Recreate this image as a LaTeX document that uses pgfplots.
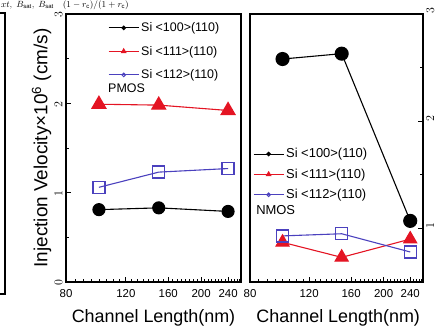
\documentclass[border=0pt]{standalone}
\usepackage{pgfplots}
\pgfplotsset{compat=1.18}
\usepackage{fontspec}
\setmainfont{Liberation Sans}
\definecolor{myred}{RGB}{228,20,35}
\definecolor{myblue}{RGB}{75,65,190}
\pgfplotsset{
  panel/.style={
    scale only axis, height=268bp,
    xmin=80, xmax=262,
    xtick={80,120,160,200,240}, xticklabels={80,120,160,200,240},
    minor xtick={85,90,95,100,105,110,115,125,130,135,140,145,150,155,165,170,175,180,185,190,195,205,210,215,220,225,230,235,245,250,255,260},
    xtick pos=bottom, tick align=inside,
    major tick length=5bp, minor tick length=3bp,
    axis line style={line width=1.6bp},
    every tick/.style={black, line width=0.8bp},
    tick label style={font=\fontsize{11.5}{11.5}\selectfont},
    xticklabel style={yshift=-4bp},
    label style={font=\fontsize{18}{18}\selectfont},
    legend style={draw=none, fill=none, inner sep=0pt, row sep=9bp,
      font=\fontsize{12.5}{13}\selectfont, cells={anchor=west}},
    legend image code/.code={\draw[mark repeat=2,mark phase=2,##1] plot coordinates {(0bp,0bp) (15bp,0bp) (30bp,0bp)};},
  },
  s100/.style={black, line width=1.1bp, mark=*, mark options={solid}},
  s111/.style={myred, line width=1.1bp, mark=triangle*, mark options={solid}},
  s112/.style={myblue, line width=1.1bp, mark=square, mark options={solid, line width=1.3bp}},
}
\begin{document}
\begin{tikzpicture}
\useasboundingbox (0bp,0bp) rectangle (438bp,331bp);
% fragment of the neighbouring panel and caption
\draw[line width=1.6bp] (0bp,318bp) -- (5bp,318bp) -- (5bp,37bp) -- (0bp,37bp);
\node[anchor=base west, inner sep=0pt, font=\fontsize{9}{9}\selectfont] at (1bp,323bp) {$x t,\ B_{\mathrm{sat}},\ B_{\mathrm{sat}}\quad (1-r_{\mathrm{c}})/(1+r_{\mathrm{c}})$};

% ---------------- PMOS panel ----------------
\begin{semilogxaxis}[panel, at={(66bp,49bp)}, anchor=south west, width=175bp,
  ymin=0, ymax=3, ytick={0,1,2,3}, minor ytick={0.5,1.5,2.5}, ytick pos=left,
  yticklabel style={rotate=90, anchor=south, xshift=-1bp},
  xlabel={Channel Length(nm)},
  xlabel style={at={(axis description cs:0.5,-0.134)}, anchor=center},
  ylabel={Injection Velocity×10\textsuperscript{6} (cm/s)},
  ylabel style={at={(axis description cs:-0.14,0.5)}, anchor=center, font=\fontsize{19}{19}\selectfont},
  legend style={at={(rel axis cs:0.24,0.976)}, anchor=north west},
]
\addlegendimage{black, line width=1bp, mark=*, mark size=1.8bp}
\addlegendentry{Si <100>(110)}
\addlegendimage{myred, line width=1bp, mark=triangle*, mark size=2.5bp}
\addlegendentry{Si <111>(110)}
\addlegendimage{myblue, line width=1bp, mark=o, mark size=1.8bp}
\addlegendentry{Si <112>(110)}
\addplot[s100, mark size=6bp, forget plot] coordinates {(100,0.81) (150,0.83) (240,0.79)};
\addplot[s111, mark size=8bp, forget plot] coordinates {(100,1.99) (150,1.98) (240,1.92)};
\addplot[s112, mark size=6bp, forget plot] coordinates {(100,1.06) (150,1.23) (240,1.27)};
\node[anchor=west, inner sep=0pt, font=\fontsize{12.5}{12.5}\selectfont] at (rel axis cs:0.24,0.724) {PMOS};
\end{semilogxaxis}

% ---------------- NMOS panel ----------------
\begin{semilogxaxis}[panel, at={(250bp,49bp)}, anchor=south west, width=173bp,
  ymin=0.5, ymax=3, ytick={1,2,3}, minor ytick={1.5,2.5}, ytick pos=right,
  yticklabel style={rotate=90, anchor=north, xshift=3bp},
  xlabel={Channel Length(nm)},
  xlabel style={at={(axis description cs:0.51,-0.134)}, anchor=center},
  legend style={at={(rel axis cs:0.017,0.506)}, anchor=north west, row sep=5.5bp, font=\fontsize{13}{13}\selectfont},
]
\addlegendimage{black, line width=1bp, mark=*, mark size=1.8bp}
\addlegendentry{Si <100>(110)}
\addlegendimage{myred, line width=1bp, mark=triangle*, mark size=2.5bp}
\addlegendentry{Si <111>(110)}
\addlegendimage{myblue, line width=1bp, mark=o, mark size=1.8bp}
\addlegendentry{Si <112>(110)}
\addplot[s100, mark size=6.5bp, forget plot] coordinates {(100,2.58) (150,2.63) (240,1.07)};
\addplot[s111, mark size=7.5bp, forget plot] coordinates {(100,0.87) (150,0.73) (240,0.90)};
\addplot[s112, mark size=6bp, forget plot] coordinates {(100,0.93) (150,0.95) (240,0.78)};
\node[anchor=west, inner sep=0pt, font=\fontsize{13}{13}\selectfont] at (rel axis cs:0.035,0.269) {NMOS};
\end{semilogxaxis}
\end{tikzpicture}
\end{document}
